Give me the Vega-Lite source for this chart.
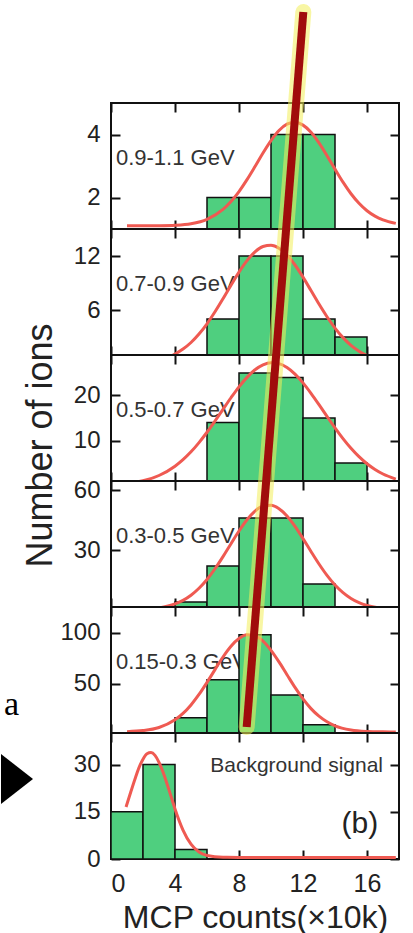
{
  "$schema": "https://vega.github.io/schema/vega-lite/v6.json",
  "background": "white",
  "padding": {"left": 0, "top": 2, "right": 0, "bottom": 0},
  "bounds": "flush",
  "spacing": 0,
  "config": {
    "font": "Liberation Sans",
    "view": {"stroke": "#111", "strokeWidth": 2},
    "axis": {"tickSize": 9, "offset": -9, "tickWidth": 2, "tickColor": "#111", "domain": false, "grid": false, "labelFontSize": 24, "labelColor": "#222", "labelFont": "Liberation Sans", "labelPadding": 11, "zindex": 2}
  },
  "datasets": {
    "bars": [
      {"p": 1, "x0": 6, "x1": 8, "n": 2}, {"p": 1, "x0": 8, "x1": 10, "n": 2}, {"p": 1, "x0": 10, "x1": 12, "n": 4}, {"p": 1, "x0": 12, "x1": 14, "n": 4},
      {"p": 2, "x0": 6, "x1": 8, "n": 5}, {"p": 2, "x0": 8, "x1": 10, "n": 12}, {"p": 2, "x0": 10, "x1": 12, "n": 12}, {"p": 2, "x0": 12, "x1": 14, "n": 5}, {"p": 2, "x0": 14, "x1": 16, "n": 3},
      {"p": 3, "x0": 6, "x1": 8, "n": 14}, {"p": 3, "x0": 8, "x1": 10, "n": 25}, {"p": 3, "x0": 10, "x1": 12, "n": 24}, {"p": 3, "x0": 12, "x1": 14, "n": 15}, {"p": 3, "x0": 14, "x1": 16, "n": 5},
      {"p": 4, "x0": 4, "x1": 6, "n": 4}, {"p": 4, "x0": 6, "x1": 8, "n": 22}, {"p": 4, "x0": 8, "x1": 10, "n": 46}, {"p": 4, "x0": 10, "x1": 12, "n": 46}, {"p": 4, "x0": 12, "x1": 14, "n": 13},
      {"p": 5, "x0": 4, "x1": 6, "n": 17}, {"p": 5, "x0": 6, "x1": 8, "n": 54}, {"p": 5, "x0": 8, "x1": 10, "n": 98}, {"p": 5, "x0": 10, "x1": 12, "n": 39}, {"p": 5, "x0": 12, "x1": 14, "n": 10},
      {"p": 6, "x0": 0, "x1": 2, "n": 15}, {"p": 6, "x0": 2, "x1": 4, "n": 30}, {"p": 6, "x0": 4, "x1": 6, "n": 3}
    ],
    "curves": [
      {"p":1,"x":1,"y":1.10},{"p":1,"x":2,"y":1.10},{"p":1,"x":3,"y":1.104},{"p":1,"x":4,"y":1.119},{"p":1,"x":5,"y":1.169},{"p":1,"x":6,"y":1.309},{"p":1,"x":7,"y":1.623},{"p":1,"x":7.5,"y":1.873},{"p":1,"x":8,"y":2.189},{"p":1,"x":8.5,"y":2.567},{"p":1,"x":9,"y":2.983},{"p":1,"x":9.5,"y":3.413},{"p":1,"x":10,"y":3.807},{"p":1,"x":10.5,"y":4.127},{"p":1,"x":11,"y":4.328},{"p":1,"x":11.5,"y":4.39},{"p":1,"x":12,"y":4.298},{"p":1,"x":12.5,"y":4.071},{"p":1,"x":13,"y":3.732},{"p":1,"x":13.5,"y":3.327},{"p":1,"x":14,"y":2.9},{"p":1,"x":14.5,"y":2.486},{"p":1,"x":15,"y":2.12},{"p":1,"x":15.5,"y":1.817},{"p":1,"x":16,"y":1.58},{"p":1,"x":16.5,"y":1.408},{"p":1,"x":17,"y":1.288},{"p":1,"x":17.8,"y":1.178},
      {"p":2,"x":1,"y":0.05},{"p":2,"x":2,"y":0.16},{"p":2,"x":3,"y":0.44},{"p":2,"x":4,"y":1.11},{"p":2,"x":4.5,"y":1.66},{"p":2,"x":5,"y":2.39},{"p":2,"x":5.5,"y":3.33},{"p":2,"x":6,"y":4.47},{"p":2,"x":6.5,"y":5.8},{"p":2,"x":7,"y":7.25},{"p":2,"x":7.5,"y":8.76},{"p":2,"x":8,"y":10.21},{"p":2,"x":8.5,"y":11.48},{"p":2,"x":9,"y":12.46},{"p":2,"x":9.5,"y":13.05},{"p":2,"x":10,"y":13.19},{"p":2,"x":10.5,"y":12.87},{"p":2,"x":11,"y":12.11},{"p":2,"x":11.5,"y":11.0},{"p":2,"x":12,"y":9.65},{"p":2,"x":12.5,"y":8.16},{"p":2,"x":13,"y":6.66},{"p":2,"x":13.5,"y":5.25},{"p":2,"x":14,"y":3.99},{"p":2,"x":14.5,"y":2.93},{"p":2,"x":15,"y":2.07},{"p":2,"x":15.5,"y":1.42},{"p":2,"x":16,"y":0.93},{"p":2,"x":17,"y":0.36},{"p":2,"x":17.8,"y":0.16},
      {"p":3,"x":1,"y":0.44},{"p":3,"x":2,"y":1.04},{"p":3,"x":3,"y":2.22},{"p":3,"x":4,"y":4.29},{"p":3,"x":4.5,"y":5.74},{"p":3,"x":5,"y":7.48},{"p":3,"x":5.5,"y":9.53},{"p":3,"x":6,"y":11.83},{"p":3,"x":6.5,"y":14.33},{"p":3,"x":7,"y":16.93},{"p":3,"x":7.5,"y":19.5},{"p":3,"x":8,"y":21.93},{"p":3,"x":8.5,"y":24.03},{"p":3,"x":9,"y":25.71},{"p":3,"x":9.5,"y":26.81},{"p":3,"x":10,"y":27.3},{"p":3,"x":10.5,"y":27.08},{"p":3,"x":11,"y":26.22},{"p":3,"x":11.5,"y":24.76},{"p":3,"x":12,"y":22.81},{"p":3,"x":12.5,"y":20.49},{"p":3,"x":13,"y":17.97},{"p":3,"x":13.5,"y":15.36},{"p":3,"x":14,"y":12.81},{"p":3,"x":14.5,"y":10.42},{"p":3,"x":15,"y":8.27},{"p":3,"x":15.5,"y":6.4},{"p":3,"x":16,"y":4.83},{"p":3,"x":16.5,"y":3.56},{"p":3,"x":17,"y":2.55},{"p":3,"x":17.8,"y":1.43},
      {"p":4,"x":1,"y":0.08},{"p":4,"x":2,"y":0.31},{"p":4,"x":3,"y":1.05},{"p":4,"x":4,"y":3.03},{"p":4,"x":4.5,"y":4.84},{"p":4,"x":5,"y":7.4},{"p":4,"x":5.5,"y":10.86},{"p":4,"x":6,"y":15.28},{"p":4,"x":6.5,"y":20.62},{"p":4,"x":7,"y":26.68},{"p":4,"x":7.5,"y":33.14},{"p":4,"x":8,"y":39.48},{"p":4,"x":8.5,"y":45.1},{"p":4,"x":9,"y":49.43},{"p":4,"x":9.5,"y":51.97},{"p":4,"x":10,"y":52.4},{"p":4,"x":10.5,"y":50.68},{"p":4,"x":11,"y":47.02},{"p":4,"x":11.5,"y":41.85},{"p":4,"x":12,"y":35.71},{"p":4,"x":12.5,"y":29.25},{"p":4,"x":13,"y":22.98},{"p":4,"x":13.5,"y":17.3},{"p":4,"x":14,"y":12.5},{"p":4,"x":14.5,"y":8.67},{"p":4,"x":15,"y":5.76},{"p":4,"x":15.5,"y":3.68},{"p":4,"x":16,"y":2.25},{"p":4,"x":17,"y":0.74},{"p":4,"x":17.8,"y":0.27},
      {"p":5,"x":1,"y":3.3},{"p":5,"x":2,"y":4.35},{"p":5,"x":3,"y":7.4},{"p":5,"x":4,"y":14.9},{"p":5,"x":4.5,"y":21.1},{"p":5,"x":5,"y":29.4},{"p":5,"x":5.5,"y":39.6},{"p":5,"x":6,"y":51.4},{"p":5,"x":6.5,"y":63.9},{"p":5,"x":7,"y":76.2},{"p":5,"x":7.5,"y":86.7},{"p":5,"x":8,"y":94.2},{"p":5,"x":8.5,"y":97.8},{"p":5,"x":9,"y":96.9},{"p":5,"x":9.5,"y":91.6},{"p":5,"x":10,"y":82.7},{"p":5,"x":10.5,"y":71.4},{"p":5,"x":11,"y":58.9},{"p":5,"x":11.5,"y":46.5},{"p":5,"x":12,"y":35.3},{"p":5,"x":12.5,"y":25.8},{"p":5,"x":13,"y":18.4},{"p":5,"x":13.5,"y":12.9},{"p":5,"x":14,"y":9.05},{"p":5,"x":15,"y":4.97},{"p":5,"x":16,"y":3.52},{"p":5,"x":17,"y":3.1},{"p":5,"x":17.8,"y":3.0},
      {"p":6,"x":0.94,"y":16.5},{"p":6,"x":1.25,"y":21.5},{"p":6,"x":1.5,"y":25.4},{"p":6,"x":1.75,"y":29.0},{"p":6,"x":2,"y":31.7},{"p":6,"x":2.25,"y":33.4},{"p":6,"x":2.5,"y":33.8},{"p":6,"x":2.75,"y":32.9},{"p":6,"x":3,"y":30.7},{"p":6,"x":3.25,"y":27.6},{"p":6,"x":3.5,"y":23.9},{"p":6,"x":3.75,"y":19.9},{"p":6,"x":4,"y":15.9},{"p":6,"x":4.5,"y":9.2},{"p":6,"x":5,"y":4.7},{"p":6,"x":5.5,"y":2.2},{"p":6,"x":6,"y":1.1},{"p":6,"x":7,"y":0.54},{"p":6,"x":8,"y":0.5},{"p":6,"x":12,"y":0.5},{"p":6,"x":17.8,"y":0.5}
    ],
    "labels": [
      {"p": 1, "x": 0.31, "y": 3.03, "label": "0.9-1.1 GeV"},
      {"p": 2, "x": 0.31, "y": 8.11, "label": "0.7-0.9 GeV"},
      {"p": 3, "x": 0.31, "y": 15.22, "label": "0.5-0.7 GeV"},
      {"p": 4, "x": 0.31, "y": 33.5, "label": "0.3-0.5 GeV"},
      {"p": 5, "x": 0.31, "y": 64.45, "label": "0.15-0.3 GeV"}
    ],
    "trend": [{"x": 12.02, "y": 268.9}, {"x": 8.48, "y": 41.9}]
  },
  "vconcat": [
    {
      "width": 288, "height": 126,
      "resolve": {"axis": {"x": "independent", "y": "independent"}},
      "layer": [
        {"data": {"name": "labels"}, "transform": [{"filter": "datum.p == 1"}],
         "mark": {"type": "text", "align": "left", "baseline": "alphabetic", "fontSize": 22, "color": "#333"},
         "encoding": {
           "x": {"field": "x", "type": "quantitative", "scale": {"domain": [0, 18], "nice": false, "zero": false}, "axis": {"orient": "bottom", "values": [0, 4, 8, 12, 16], "labels": false, "title": null}},
           "y": {"field": "y", "type": "quantitative", "scale": {"domain": [1, 5], "nice": false, "zero": false}, "axis": {"orient": "left", "values": [2, 4], "title": null}},
           "text": {"field": "label"}}},
        {"data": {"name": "bars"}, "transform": [{"filter": "datum.p == 1"}],
         "mark": {"type": "bar", "color": "#4fcf7f", "stroke": "#111", "strokeWidth": 1.5, "clip": true},
         "encoding": {"x": {"field": "x0", "type": "quantitative", "scale": {"domain": [0, 18], "nice": false, "zero": false}, "axis": null}, "x2": {"field": "x1"},
           "y": {"field": "n", "type": "quantitative", "scale": {"domain": [1, 5], "nice": false, "zero": false}, "axis": null}, "y2": {"datum": 0}}},
        {"data": {"name": "curves"}, "transform": [{"filter": "datum.p == 1"}],
         "mark": {"type": "line", "color": "#ef5a52", "strokeWidth": 3, "interpolate": "monotone", "clip": true},
         "encoding": {
           "x": {"field": "x", "type": "quantitative", "scale": {"domain": [0, 18], "nice": false, "zero": false}, "axis": {"orient": "top", "values": [0, 4, 8, 12, 16], "labels": false, "title": null}},
           "y": {"field": "y", "type": "quantitative", "scale": {"domain": [1, 5], "nice": false, "zero": false}, "axis": {"orient": "right", "values": [2, 4], "labels": false, "title": null}}}}
      ]
    },
    {
      "width": 288, "height": 126,
      "resolve": {"axis": {"x": "independent", "y": "independent"}},
      "layer": [
        {"data": {"name": "labels"}, "transform": [{"filter": "datum.p == 2"}],
         "mark": {"type": "text", "align": "left", "baseline": "alphabetic", "fontSize": 22, "color": "#333"},
         "encoding": {
           "x": {"field": "x", "type": "quantitative", "scale": {"domain": [0, 18], "nice": false, "zero": false}, "axis": {"orient": "bottom", "values": [0, 4, 8, 12, 16], "labels": false, "title": null}},
           "y": {"field": "y", "type": "quantitative", "scale": {"domain": [1, 15], "nice": false, "zero": false}, "axis": {"orient": "left", "values": [6, 12], "title": null}},
           "text": {"field": "label"}}},
        {"data": {"name": "bars"}, "transform": [{"filter": "datum.p == 2"}],
         "mark": {"type": "bar", "color": "#4fcf7f", "stroke": "#111", "strokeWidth": 1.5, "clip": true},
         "encoding": {"x": {"field": "x0", "type": "quantitative", "scale": {"domain": [0, 18], "nice": false, "zero": false}, "axis": null}, "x2": {"field": "x1"},
           "y": {"field": "n", "type": "quantitative", "scale": {"domain": [1, 15], "nice": false, "zero": false}, "axis": null}, "y2": {"datum": 0}}},
        {"data": {"name": "curves"}, "transform": [{"filter": "datum.p == 2"}],
         "mark": {"type": "line", "color": "#ef5a52", "strokeWidth": 3, "interpolate": "monotone", "clip": true},
         "encoding": {
           "x": {"field": "x", "type": "quantitative", "scale": {"domain": [0, 18], "nice": false, "zero": false}, "axis": {"orient": "top", "values": [0, 4, 8, 12, 16], "labels": false, "title": null}},
           "y": {"field": "y", "type": "quantitative", "scale": {"domain": [1, 15], "nice": false, "zero": false}, "axis": {"orient": "right", "values": [6, 12], "labels": false, "title": null}}}}
      ]
    },
    {
      "width": 288, "height": 126,
      "resolve": {"axis": {"x": "independent", "y": "independent"}},
      "layer": [
        {"data": {"name": "labels"}, "transform": [{"filter": "datum.p == 3"}],
         "mark": {"type": "text", "align": "left", "baseline": "alphabetic", "fontSize": 22, "color": "#333"},
         "encoding": {
           "x": {"field": "x", "type": "quantitative", "scale": {"domain": [0, 18], "nice": false, "zero": false}, "axis": {"orient": "bottom", "values": [0, 4, 8, 12, 16], "labels": false, "title": null}},
           "y": {"field": "y", "type": "quantitative", "scale": {"domain": [1, 29], "nice": false, "zero": false}, "axis": {"orient": "left", "values": [10, 20], "title": "Number of ions", "titleFontSize": 36, "titleFontWeight": "normal", "titleColor": "#222", "titleFont": "Liberation Sans", "titleX": -69, "titleY": 90, "titleBaseline": "alphabetic", "titleAngle": -90, "titleAlign": "center"}},
           "text": {"field": "label"}}},
        {"data": {"name": "bars"}, "transform": [{"filter": "datum.p == 3"}],
         "mark": {"type": "bar", "color": "#4fcf7f", "stroke": "#111", "strokeWidth": 1.5, "clip": true},
         "encoding": {"x": {"field": "x0", "type": "quantitative", "scale": {"domain": [0, 18], "nice": false, "zero": false}, "axis": null}, "x2": {"field": "x1"},
           "y": {"field": "n", "type": "quantitative", "scale": {"domain": [1, 29], "nice": false, "zero": false}, "axis": null}, "y2": {"datum": 0}}},
        {"data": {"name": "curves"}, "transform": [{"filter": "datum.p == 3"}],
         "mark": {"type": "line", "color": "#ef5a52", "strokeWidth": 3, "interpolate": "monotone", "clip": true},
         "encoding": {
           "x": {"field": "x", "type": "quantitative", "scale": {"domain": [0, 18], "nice": false, "zero": false}, "axis": {"orient": "top", "values": [0, 4, 8, 12, 16], "labels": false, "title": null}},
           "y": {"field": "y", "type": "quantitative", "scale": {"domain": [1, 29], "nice": false, "zero": false}, "axis": {"orient": "right", "values": [10, 20], "labels": false, "title": null}}}}
      ]
    },
    {
      "width": 288, "height": 126,
      "resolve": {"axis": {"x": "independent", "y": "independent"}},
      "layer": [
        {"data": {"name": "labels"}, "transform": [{"filter": "datum.p == 4"}],
         "mark": {"type": "text", "align": "left", "baseline": "alphabetic", "fontSize": 22, "color": "#333"},
         "encoding": {
           "x": {"field": "x", "type": "quantitative", "scale": {"domain": [0, 18], "nice": false, "zero": false}, "axis": {"orient": "bottom", "values": [0, 4, 8, 12, 16], "labels": false, "title": null}},
           "y": {"field": "y", "type": "quantitative", "scale": {"domain": [1.5, 64.5], "nice": false, "zero": false}, "axis": {"orient": "left", "values": [30, 60], "title": null}},
           "text": {"field": "label"}}},
        {"data": {"name": "bars"}, "transform": [{"filter": "datum.p == 4"}],
         "mark": {"type": "bar", "color": "#4fcf7f", "stroke": "#111", "strokeWidth": 1.5, "clip": true},
         "encoding": {"x": {"field": "x0", "type": "quantitative", "scale": {"domain": [0, 18], "nice": false, "zero": false}, "axis": null}, "x2": {"field": "x1"},
           "y": {"field": "n", "type": "quantitative", "scale": {"domain": [1.5, 64.5], "nice": false, "zero": false}, "axis": null}, "y2": {"datum": 0}}},
        {"data": {"name": "curves"}, "transform": [{"filter": "datum.p == 4"}],
         "mark": {"type": "line", "color": "#ef5a52", "strokeWidth": 3, "interpolate": "monotone", "clip": true},
         "encoding": {
           "x": {"field": "x", "type": "quantitative", "scale": {"domain": [0, 18], "nice": false, "zero": false}, "axis": {"orient": "top", "values": [0, 4, 8, 12, 16], "labels": false, "title": null}},
           "y": {"field": "y", "type": "quantitative", "scale": {"domain": [1.5, 64.5], "nice": false, "zero": false}, "axis": {"orient": "right", "values": [30, 60], "labels": false, "title": null}}}}
      ]
    },
    {
      "width": 288, "height": 126,
      "resolve": {"axis": {"x": "independent", "y": "independent"}},
      "layer": [
        {"data": {"name": "labels"}, "transform": [{"filter": "datum.p == 5"}],
         "mark": {"type": "text", "align": "left", "baseline": "alphabetic", "fontSize": 22, "color": "#333"},
         "encoding": {
           "x": {"field": "x", "type": "quantitative", "scale": {"domain": [0, 18], "nice": false, "zero": false}, "axis": {"orient": "bottom", "values": [0, 4, 8, 12, 16], "labels": false, "title": null}},
           "y": {"field": "y", "type": "quantitative", "scale": {"domain": [2, 125], "nice": false, "zero": false}, "axis": {"orient": "left", "values": [50, 100], "title": null}},
           "text": {"field": "label"}}},
        {"data": {"name": "bars"}, "transform": [{"filter": "datum.p == 5"}],
         "mark": {"type": "bar", "color": "#4fcf7f", "stroke": "#111", "strokeWidth": 1.5, "clip": true},
         "encoding": {"x": {"field": "x0", "type": "quantitative", "scale": {"domain": [0, 18], "nice": false, "zero": false}, "axis": null}, "x2": {"field": "x1"},
           "y": {"field": "n", "type": "quantitative", "scale": {"domain": [2, 125], "nice": false, "zero": false}, "axis": null}, "y2": {"datum": 0}}},
        {"data": {"name": "curves"}, "transform": [{"filter": "datum.p == 5"}],
         "mark": {"type": "line", "color": "#ef5a52", "strokeWidth": 3, "interpolate": "monotone", "clip": true},
         "encoding": {
           "x": {"field": "x", "type": "quantitative", "scale": {"domain": [0, 18], "nice": false, "zero": false}, "axis": {"orient": "top", "values": [0, 4, 8, 12, 16], "labels": false, "title": null}},
           "y": {"field": "y", "type": "quantitative", "scale": {"domain": [2, 125], "nice": false, "zero": false}, "axis": {"orient": "right", "values": [50, 100], "labels": false, "title": null}}}}
      ]
    },
    {
      "width": 288, "height": 126,
      "resolve": {"axis": {"x": "independent", "y": "independent"}},
      "layer": [
        {"data": {"name": "bars"}, "transform": [{"filter": "datum.p == 6"}],
         "mark": {"type": "bar", "color": "#4fcf7f", "stroke": "#111", "strokeWidth": 1.5, "clip": true},
         "encoding": {
           "x": {"field": "x0", "type": "quantitative", "scale": {"domain": [0, 18], "nice": false, "zero": false}, "axis": {"orient": "bottom", "values": [0, 4, 8, 12, 16], "labelFontSize": 25, "labelPadding": 12, "title": "MCP counts(×10k)", "titleFontSize": 32, "titleFontWeight": "normal", "titleColor": "#222", "titleFont": "Liberation Sans", "titleY": 77, "titleBaseline": "alphabetic"}},
           "x2": {"field": "x1"},
           "y": {"field": "n", "type": "quantitative", "scale": {"domain": [0, 40], "nice": false, "zero": false}, "axis": {"orient": "left", "values": [0, 15, 30], "title": null}},
           "y2": {"datum": 0}}},
        {"data": {"name": "curves"}, "transform": [{"filter": "datum.p == 6"}],
         "mark": {"type": "line", "color": "#ef5a52", "strokeWidth": 3, "interpolate": "monotone", "clip": true},
         "encoding": {
           "x": {"field": "x", "type": "quantitative", "scale": {"domain": [0, 18], "nice": false, "zero": false}, "axis": {"orient": "top", "values": [0, 4, 8, 12, 16], "labels": false, "title": null}},
           "y": {"field": "y", "type": "quantitative", "scale": {"domain": [0, 40], "nice": false, "zero": false}, "axis": {"orient": "right", "values": [0, 15, 30], "labels": false, "title": null}}}},
        {"data": {"values": [{"x": 17.0, "y": 27.6, "label": "Background signal"}]},
         "mark": {"type": "text", "align": "right", "baseline": "alphabetic", "fontSize": 21, "color": "#333"},
         "encoding": {"x": {"field": "x", "type": "quantitative", "scale": {"domain": [0, 18], "nice": false, "zero": false}, "axis": null}, "y": {"field": "y", "type": "quantitative", "scale": {"domain": [0, 40], "nice": false, "zero": false}, "axis": null}, "text": {"field": "label"}}},
        {"data": {"values": [{"x": 16.7, "y": 8.25, "label": "(b)"}]},
         "mark": {"type": "text", "align": "right", "baseline": "alphabetic", "fontSize": 30, "color": "#222"},
         "encoding": {"x": {"field": "x", "type": "quantitative", "scale": {"domain": [0, 18], "nice": false, "zero": false}, "axis": null}, "y": {"field": "y", "type": "quantitative", "scale": {"domain": [0, 40], "nice": false, "zero": false}, "axis": null}, "text": {"field": "label"}}},
        {"data": {"name": "trend"},
         "mark": {"type": "line", "color": "#f3ee5a", "opacity": 0.55, "strokeWidth": 16, "strokeCap": "round", "strokeJoin": "round"},
         "encoding": {"x": {"field": "x", "type": "quantitative", "scale": {"domain": [0, 18], "nice": false, "zero": false}, "axis": null}, "y": {"field": "y", "type": "quantitative", "scale": {"domain": [0, 40], "nice": false, "zero": false}, "axis": null}}},
        {"data": {"name": "trend"},
         "mark": {"type": "line", "color": "#a00c0c", "strokeWidth": 8, "strokeJoin": "round"},
         "encoding": {"x": {"field": "x", "type": "quantitative", "scale": {"domain": [0, 18], "nice": false, "zero": false}, "axis": null}, "y": {"field": "y", "type": "quantitative", "scale": {"domain": [0, 40], "nice": false, "zero": false}, "axis": null}}},
        {"data": {"values": [{"x": -6.69, "y": 45.7, "label": "a"}]},
         "mark": {"type": "text", "align": "left", "baseline": "alphabetic", "fontSize": 34, "font": "Liberation Serif", "color": "#000"},
         "encoding": {"x": {"field": "x", "type": "quantitative", "scale": {"domain": [0, 18], "nice": false, "zero": false}, "axis": null}, "y": {"field": "y", "type": "quantitative", "scale": {"domain": [0, 40], "nice": false, "zero": false}, "axis": null}, "text": {"field": "label"}}},
        {"data": {"values": [{"x": -5.875, "y": 25.4}]},
         "mark": {"type": "point", "shape": "M-0.64,-1L0.64,0L-0.64,1Z", "size": 2500, "filled": true, "color": "#000", "opacity": 1},
         "encoding": {"x": {"field": "x", "type": "quantitative", "scale": {"domain": [0, 18], "nice": false, "zero": false}, "axis": null}, "y": {"field": "y", "type": "quantitative", "scale": {"domain": [0, 40], "nice": false, "zero": false}, "axis": null}}}
      ]
    }
  ]
}
